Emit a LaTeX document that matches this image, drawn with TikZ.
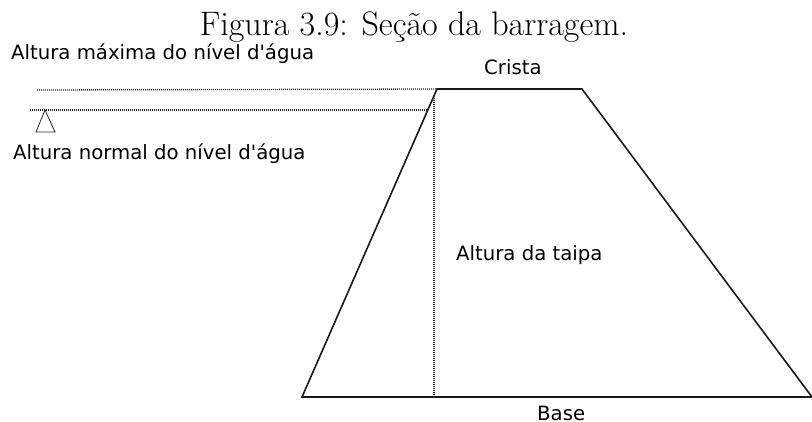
\documentclass[tikz,border=0pt]{standalone}
\usepackage{fontspec}
\setsansfont{DejaVu Sans}
\usetikzlibrary{positioning}
\tikzset{
    damlabel/.style={font=\sffamily\fontsize{19.7}{22}\selectfont, inner sep=0pt},
    damline/.style={line width=1.6pt, black!90},
    levelline/.style={line width=1.3pt, dash pattern=on 1pt off 1pt, black!85}
}

\begin{document}
\begin{tikzpicture}[x=1pt,y=-1pt]
\useasboundingbox (0,0) rectangle (812,421);

\node[inner sep=0pt, anchor=base, font=\fontsize{34}{36}\selectfont] (title) at (414,35) {Figura 3.9: Seção da barragem.};

% dam section
\coordinate (baseleft) at (302,397);
\coordinate (crestleft) at (437,89);
\coordinate (crestright) at (582,89);
\coordinate (baseright) at (812,397);
\draw[damline, line join=miter] (baseleft) -- (crestleft) -- (crestright) -- (baseright) -- cycle;

% water levels
\coordinate (maxstart) at (37,90);
\coordinate (normalstart) at (30,110);
\coordinate (normalend) at (428,110);
\coordinate (heighttop) at (434,96);
\coordinate (heightbottom) at (434,397);
\draw[levelline] (maxstart) -- (crestleft);
\draw[levelline] (normalstart) -- (normalend);
\draw[levelline] (heighttop) -- (heightbottom);

\coordinate (markertop) at (45,110);
\coordinate (markerleft) at (36,132);
\coordinate (markerright) at (55,132);
\draw[line width=0.8pt, black!85] (markertop) -- (markerleft) -- (markerright) -- cycle;

\node[damlabel, anchor=base west] (maxlabel) at (11,59) {Altura máxima do nível d\textquotesingle água};
\node[damlabel, anchor=base west] (normallabel) at (13,159) {Altura normal do nível d\textquotesingle água};
\node[damlabel, anchor=base west] (cristalabel) at (484,74) {Crista};
\node[damlabel, anchor=base west] (taipalabel) at (456,260) {Altura da taipa};
\node[damlabel, anchor=base west] (baselabel) at (537,420.5) {Base};
\end{tikzpicture}
\end{document}
